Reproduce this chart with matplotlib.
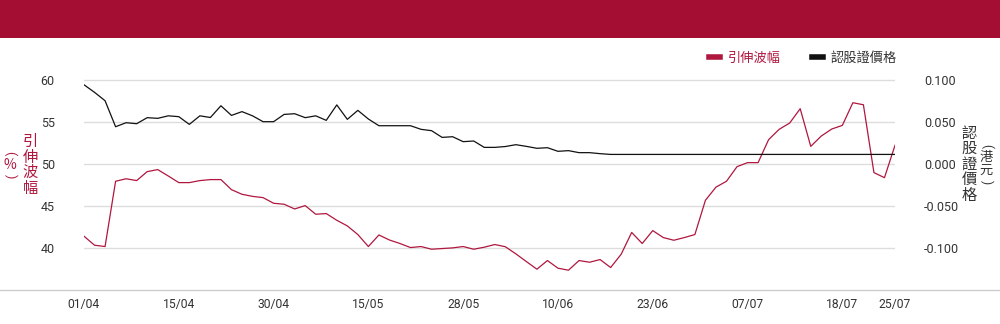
import matplotlib
matplotlib.use("Agg")
import matplotlib.pyplot as plt
from matplotlib.lines import Line2D
from matplotlib.patches import Rectangle

plt.rcParams['font.family'] = ['Roboto', 'Noto Sans CJK TC', 'DejaVu Sans']
plt.rcParams['axes.unicode_minus'] = False

# ---- data ----
dates = ["01/04", "02/04", "03/04", "07/04", "08/04", "09/04", "10/04", "11/04", "14/04", "15/04",
         "16/04", "17/04", "22/04", "23/04", "24/04", "25/04", "28/04", "29/04", "30/04",
         "02/05", "06/05", "07/05", "08/05", "09/05", "12/05", "13/05", "14/05", "15/05", "16/05",
         "19/05", "20/05", "21/05", "22/05", "23/05", "26/05", "27/05", "28/05", "29/05", "30/05",
         "02/06", "03/06", "04/06", "05/06", "06/06", "09/06", "10/06", "11/06", "12/06", "13/06",
         "16/06", "17/06", "18/06", "19/06", "20/06", "23/06", "24/06", "25/06", "26/06", "27/06",
         "30/06", "02/07", "03/07", "04/07", "07/07", "08/07", "09/07", "10/07", "11/07", "14/07",
         "15/07", "16/07", "17/07", "18/07", "21/07", "22/07", "23/07", "24/07", "25/07"]

implied_vol = [41.35, 40.28, 40.12, 47.9, 48.2, 47.98, 49.05, 49.29, 48.53, 47.74,
               47.74, 47.98, 48.1, 48.1, 46.9, 46.35, 46.1, 45.95, 45.28, 45.16,
               44.6, 45.0, 43.97, 44.05, 43.25, 42.58, 41.55, 40.12, 41.5, 40.9,
               40.48, 40.0, 40.12, 39.8, 39.88, 39.96, 40.12, 39.8, 40.04, 40.36,
               40.1, 39.25, 38.33, 37.42, 38.45, 37.54, 37.3, 38.45, 38.25, 38.57,
               37.62, 39.2, 41.8, 40.48, 42.02, 41.19, 40.87, 41.19, 41.55, 45.63,
               47.2, 47.9, 49.64, 50.12, 50.12, 52.86, 54.09, 54.84, 56.55, 52.06,
               53.29, 54.13, 54.56, 57.26, 57.02, 48.93, 48.33, 52.18]

warrant_price = [0.094, 0.085, 0.075, 0.044, 0.0488, 0.0476, 0.0548, 0.054, 0.057, 0.056,
                 0.0468, 0.057, 0.055, 0.069, 0.0575, 0.062, 0.057, 0.050, 0.050, 0.0587,
                 0.0595, 0.0548, 0.057, 0.0516, 0.070, 0.0528, 0.0635, 0.0532, 0.0452, 0.0452,
                 0.0452, 0.0452, 0.0409, 0.0393, 0.0313, 0.0321, 0.0262, 0.027, 0.0194, 0.0194,
                 0.0204, 0.0226, 0.0206, 0.0183, 0.019, 0.0147, 0.0155, 0.0131, 0.0131, 0.0119,
                 0.011, 0.011, 0.011, 0.011, 0.011, 0.011, 0.011, 0.011, 0.011, 0.011,
                 0.011, 0.011, 0.011, 0.011, 0.011, 0.011, 0.011, 0.011, 0.011, 0.011,
                 0.011, 0.011, 0.011, 0.011, 0.011, 0.011, 0.011, 0.011]

tick_labels = ["01/04", "15/04", "30/04", "15/05", "28/05", "10/06", "23/06", "07/07", "18/07", "25/07"]
left_ticks = [40, 45, 50, 55, 60]
right_ticks = [-0.100, -0.050, 0.000, 0.050, 0.100]

series_names = ["引伸波幅", "認股證價格"]
left_unit = "%"
right_unit = "港元"

RED = "#b0173f"
BANNER = "#a50e33"
BLACK = "#111111"
TXT = "#333333"
CJK = ['Noto Sans CJK TC', 'DejaVu Sans']

# ---- figure ----
W, H = 1000, 324
fig = plt.figure(figsize=(W / 100, H / 100), dpi=100)
fig.patch.set_facecolor("white")

# banner
fig.patches.append(Rectangle((0, 1 - 38 / H), 1, 38 / H, transform=fig.transFigure,
                             facecolor=BANNER, edgecolor="none", zorder=0))

x0, x1 = 84, 895
ytop, ybot = 68, 289.5
ax = fig.add_axes([x0 / W, 1 - ybot / H, (x1 - x0) / W, (ybot - ytop) / H])
ax2 = ax.twinx()

xs = list(range(len(dates)))
ax.plot(xs, implied_vol, color=RED, lw=0.9, zorder=3, solid_joinstyle='round')
ax2.plot(xs, warrant_price, color=BLACK, lw=0.9, zorder=2, solid_joinstyle='round')

ax.set_xlim(0, len(dates) - 1)
ax.set_ylim(35, 61.4)
ax2.set_ylim((35 - 50) * 0.01, (61.4 - 50) * 0.01)

tick_idx = [dates.index(t) for t in tick_labels]
ax.set_xticks(tick_idx)
ax.set_xticklabels(tick_labels)
ax.set_yticks(left_ticks)
ax.set_yticklabels([f"{v:d}" for v in left_ticks])
ax2.set_yticks(right_ticks)
ax2.set_yticklabels([f"{v:.3f}" for v in right_ticks])

ax.grid(axis='y', color="#dddddd", lw=1.0)
ax.set_axisbelow(True)
for a in (ax, ax2):
    for s in a.spines.values():
        s.set_visible(False)
ax.tick_params(axis='y', length=0, pad=21, labelsize=9, labelcolor=TXT)
ax.tick_params(axis='x', length=0, pad=6, labelsize=8.7, labelcolor=TXT)
ax2.tick_params(axis='y', length=0, pad=21, labelsize=9, labelcolor=TXT)

# bottom axis line across full width
fig.add_artist(Line2D([0, 1], [1 - ybot / H, 1 - ybot / H], transform=fig.transFigure,
                      color="#cccccc", lw=1.0))


def fy(y):
    return 1 - y / H


def vcolumn(x, ycenter, chars, color, size, ch_h, br_h):
    """Stack characters vertically; ASCII brackets are rotated as in CJK vertical text."""
    heights = [br_h if ch in "()" else ch_h for ch in chars]
    total = sum(heights)
    y = ycenter - total / 2
    for ch, h in zip(chars, heights):
        yc = y + h / 2
        if ch in "()":
            fig.text(x / W, fy(yc), ch, color=color, family=['Roboto', 'DejaVu Sans'],
                     fontsize=size * 0.9, ha='center', va='center', rotation=-90,
                     rotation_mode='anchor')
        else:
            fig.text(x / W, fy(yc), ch, color=color, family=CJK, fontsize=size,
                     ha='center', va='center')
        y += h


# vertical axis titles
vcolumn(30.5, 165, series_names[0], RED, 11, 15.5, 8)
vcolumn(10, 165, "(" + left_unit + ")", RED, 10, 14, 9)
vcolumn(969.5, 164, series_names[1], TXT, 11, 15.5, 8)
vcolumn(986.5, 164, "(" + right_unit + ")", TXT, 9.5, 12.5, 10.5)

# legend
handles = [Line2D([], [], color=RED, lw=4), Line2D([], [], color=BLACK, lw=4)]
leg = fig.legend(handles, series_names, loc='center right', bbox_to_anchor=(909 / W, fy(58)),
                 ncol=2, frameon=False, handlelength=0.8, handletextpad=0.6,
                 columnspacing=2.4, prop={'family': CJK, 'size': 9.5})
for t, c in zip(leg.get_texts(), [RED, TXT]):
    t.set_color(c)

fig.savefig("out.png", dpi=100, facecolor="white")
